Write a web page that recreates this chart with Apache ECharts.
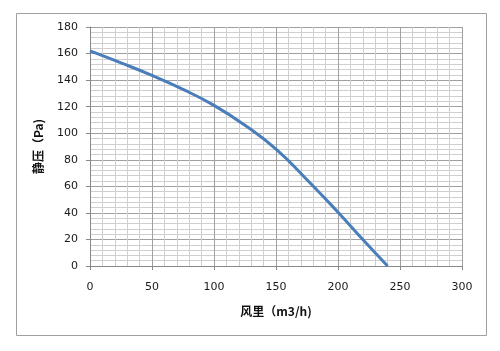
<!DOCTYPE html>
<html><head><meta charset="utf-8">
<script src="https://cdn.jsdelivr.net/npm/echarts@6/dist/echarts.min.js"></script>
<style>html,body{margin:0;padding:0;background:#fff}#c{width:500px;height:351px}</style>
</head><body><div id="c"></div>
<script>
var flow = [0, 25, 50, 75, 100, 125, 150, 175, 200, 220, 240];
var pressure = [162, 153, 143.5, 133, 121, 106, 88, 65, 40.5, 20, 0];
var xTitle = '风里（m3/h)';
var yTitle = '静压（Pa)';
var chart = echarts.init(document.getElementById('c'));
var lbl = {color: '#1a1a1a', fontSize: 11, fontFamily: 'DejaVu Sans'};
var nameStyle = {color: '#111', fontSize: 12, fontWeight: 'bold', fontFamily: 'Noto Sans CJK SC'};
chart.setOption({
  animation: false,
  backgroundColor: '#fff',
  graphic: [{type: 'rect', shape: {x: 16.5, y: 13.5, width: 470, height: 322}, style: {fill: 'none', stroke: '#a0a0a0', lineWidth: 1}, z: -1}],
  grid: {left: 90, right: 38, top: 27, bottom: 85},
  xAxis: {
    type: 'value', min: 0, max: 300, interval: 50,
    name: xTitle, nameLocation: 'middle', nameGap: 39, nameTextStyle: nameStyle,
    axisLine: {show: true, lineStyle: {color: '#888', width: 1}},
    axisTick: {show: true, length: 4, lineStyle: {color: '#888'}},
    axisLabel: Object.assign({margin: 16}, lbl),
    splitLine: {show: true, lineStyle: {color: '#a0a0a0', width: 1}},
    minorTick: {show: false, splitNumber: 5},
    minorSplitLine: {show: true, lineStyle: {color: '#cfcfcf', width: 1}}
  },
  yAxis: {
    type: 'value', min: 0, max: 180, interval: 20,
    name: yTitle, nameLocation: 'middle', nameGap: 46, nameRotate: 90, nameTextStyle: nameStyle,
    axisLine: {show: true, lineStyle: {color: '#888', width: 1}},
    axisTick: {show: true, length: 4, lineStyle: {color: '#888'}},
    axisLabel: Object.assign({margin: 12}, lbl),
    splitLine: {show: true, lineStyle: {color: '#a0a0a0', width: 1}},
    minorTick: {show: false, splitNumber: 5},
    minorSplitLine: {show: true, lineStyle: {color: '#cfcfcf', width: 1}}
  },
  series: [{
    type: 'line', smooth: true, showSymbol: false,
    data: flow.map(function (f, i) { return [f, pressure[i]]; }),
    lineStyle: {color: '#4a7ebb', width: 3}
  }]
});
</script></body></html>
